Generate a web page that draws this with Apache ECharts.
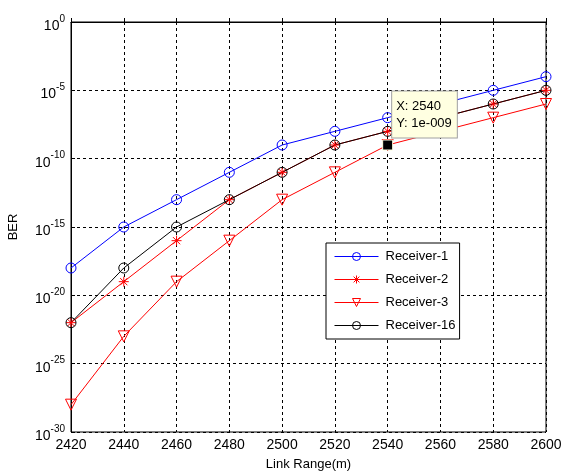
<!DOCTYPE html>
<html>
<head>
<meta charset="utf-8">
<script src="https://cdn.jsdelivr.net/npm/echarts@6/dist/echarts.min.js"></script>
<style>html,body{margin:0;padding:0;background:#fff}#c{width:570px;height:475px}</style>
</head>
<body>
<div id="c"></div>
<script>
// Link range (m) on the x axis
var linkRange = [2420, 2440, 2460, 2480, 2500, 2520, 2540, 2560, 2580, 2600];
// BER, given as decade exponents (BER = 10^value)
var receiver1 = [-18, -15, -13, -11, -9, -8, -7, -6, -5, -4];
var receiver2 = [-22, -19, -16, -13, -11, -9, -8, -7, -6, -5];
var receiver3 = [-28, -23, -19, -16, -13, -11, -9, -8, -7, -6];
var receiver16 = [-22, -18, -15, -13, -11, -9, -8, -7, -6, -5];
var seriesNames = ['Receiver-1', 'Receiver-2', 'Receiver-3', 'Receiver-16'];
var yTickExponents = [-30, -25, -20, -15, -10, -5, 0];
var annotation = { x: 2540, y: -9, text: 'X: 2540\nY: 1e-009' };

function pairs(vals) { return linkRange.map(function (x, i) { return [x, vals[i]]; }); }

var FONT = '"Liberation Sans", Arial, sans-serif';
var starPath = 'path://M0,-5L0,5M-5,0L5,0M-3.6,-3.6L3.6,3.6M-3.6,3.6L3.6,-3.6';
var triPath = 'path://M0,0L10,0L5,9Z';

function mk(name, vals, color, symbol, size, extra) {
  var s = {
    name: name, type: 'line', data: pairs(vals),
    symbol: symbol, symbolSize: size, showAllSymbol: true,
    lineStyle: { color: color, width: 1 },
    itemStyle: { color: 'transparent', borderColor: color, borderWidth: 1 },
    emphasis: { disabled: true }, animation: false
  };
  if (extra) for (var k in extra) s[k] = extra[k];
  return s;
}

var chart = echarts.init(document.getElementById('c'));
chart.setOption({
  animation: false,
  textStyle: { fontFamily: FONT },
  grid: { left: 71, right: 24, top: 22, bottom: 43, outerBoundsMode: 'none', show: true, borderColor: '#000', borderWidth: 1, backgroundColor: '#fff' },
  xAxis: {
    type: 'value', min: linkRange[0], max: linkRange[linkRange.length - 1], interval: 20,
    name: 'Link Range(m)', nameLocation: 'middle', nameGap: 26, nameMoveOverlap: false,
    nameTextStyle: { color: '#000', fontSize: 13, fontFamily: FONT },
    axisLine: { lineStyle: { color: '#000' } },
    axisTick: { inside: true, length: 4, lineStyle: { color: '#000' } },
    axisLabel: { color: '#000', fontSize: 14, margin: 6, fontFamily: FONT, showMinLabel: true, showMaxLabel: true, hideOverlap: false, formatter: function (v) { return String(v); } },
    splitLine: { show: true, lineStyle: { color: '#000', type: [3, 3], width: 1 } }
  },
  yAxis: {
    type: 'value', min: yTickExponents[0], max: yTickExponents[yTickExponents.length - 1], interval: 5,
    name: 'BER', nameLocation: 'middle', nameGap: 51, nameRotate: 90, nameMoveOverlap: false,
    nameTextStyle: { color: '#000', fontSize: 13, fontFamily: FONT },
    axisLine: { lineStyle: { color: '#000' } },
    axisTick: { inside: true, length: 4, lineStyle: { color: '#000' } },
    axisLabel: {
      color: '#000', margin: 6, showMinLabel: true, showMaxLabel: true, hideOverlap: false,
      formatter: function (v) { return '{b|10}{s|' + Math.round(v) + '}'; },
      rich: {
        b: { fontSize: 14, fontFamily: FONT, color: '#000', padding: [8, 0, 0, 0] },
        s: { fontSize: 10, fontFamily: FONT, color: '#000', padding: [0, 0, 6, 0] }
      }
    },
    splitLine: { show: true, lineStyle: { color: '#000', type: [3, 3], width: 1 } }
  },
  legend: {
    orient: 'vertical', left: 326, top: 243,
    backgroundColor: '#fff', borderColor: '#000', borderWidth: 1,
    padding: [6, 4, 6, 8], itemGap: 8, itemWidth: 44, itemHeight: 10,
    lineStyle: { width: 1 },
    itemStyle: { borderWidth: 1 },
    textStyle: { fontSize: 13, color: '#000', fontFamily: FONT, padding: [0, 0, 0, 2], lineHeight: 15 },
    data: seriesNames
  },
  series: [
    mk(seriesNames[0], receiver1, '#0000ff', 'circle', 10),
    mk(seriesNames[1], receiver2, '#ff0000', starPath, 10),
    mk(seriesNames[2], receiver3, '#ff0000', triPath, 11),
    mk(seriesNames[3], receiver16, '#000000', 'circle', 10, {
      markPoint: {
        symbol: 'rect', symbolSize: 10,
        itemStyle: { color: '#000', borderColor: '#ffffe1', borderWidth: 1 },
        label: {
          show: true, position: [10, -48], formatter: annotation.text,
          backgroundColor: '#ffffe1', borderColor: '#a0a0a0', borderWidth: 1,
          padding: [6, 5, 6, 4], color: '#000', fontSize: 13, lineHeight: 17, fontFamily: FONT
        },
        data: [{ coord: [annotation.x, annotation.y] }]
      }
    })
  ]
});
</script>
</body>
</html>
